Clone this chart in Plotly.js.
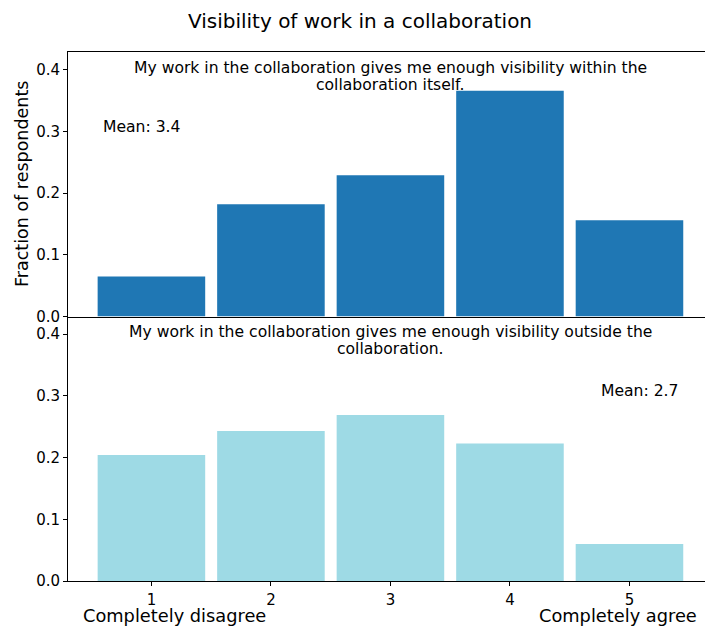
<!DOCTYPE html>
<html>
<head>
<meta charset="utf-8">
<script src="https://cdn.plot.ly/plotly-3.0.1.min.js"></script>
<style>html,body{margin:0;padding:0;background:#fff;}#chart{width:705px;height:628px;}</style>
</head>
<body>
<div id="chart"></div>
<script>
// Data
const categories = [1, 2, 3, 4, 5];
const withinValues = [0.065, 0.182, 0.229, 0.366, 0.156];
const outsideValues = [0.204, 0.243, 0.269, 0.223, 0.060];
const yTickVals = [0.0, 0.1, 0.2, 0.3, 0.4];
const yTickText = ["0.0", "0.1", "0.2", "0.3", "0.4"];
const xTickText = ["1", "2", "3", "4", "5"];
const title = "Visibility of work in a collaboration";
const withinQuestion = ["My work in the collaboration gives me enough visibility within the", "collaboration itself."];
const outsideQuestion = ["My work in the collaboration gives me enough visibility outside the", "collaboration."];
const withinMean = "Mean: 3.4";
const outsideMean = "Mean: 2.7";
const leftLabel = "Completely disagree";
const rightLabel = "Completely agree";
const yLabel = "Fraction of respondents";

const FONT = "DejaVu Sans, sans-serif";
const xRange = [0.302, 5.632];
const yRange = [0, 0.4286];

const traces = [
  {type: 'bar', x: categories, y: withinValues, width: 0.9, marker: {color: '#1f77b4'}, xaxis: 'x', yaxis: 'y', hoverinfo: 'none'},
  {type: 'bar', x: categories, y: outsideValues, width: 0.9, marker: {color: '#9edae5'}, xaxis: 'x2', yaxis: 'y2', hoverinfo: 'none'}
];

const yCommon = {
  range: yRange, tickvals: yTickVals, ticktext: yTickText,
  ticks: 'outside', ticklen: 4, tickwidth: 1, tickcolor: '#000',
  showline: true, linecolor: '#000', linewidth: 1,
  showgrid: false, zeroline: false,
  tickfont: {family: FONT, size: 15, color: '#000'}
};

const layout = {
  width: 705, height: 628,
  margin: {l: 68, r: 0, t: 52, b: 47},
  paper_bgcolor: '#fff', plot_bgcolor: '#fff',
  showlegend: false,
  font: {family: FONT, color: '#000'},
  title: {text: title, font: {family: FONT, size: 20, color: '#000'}, x: 360/705, xanchor: 'center', y: 1 - 21/628, yanchor: 'middle', xref: 'container', yref: 'container'},
  xaxis: {domain: [0, 1], range: xRange, anchor: 'y', showline: true, mirror: true, linecolor: '#000', linewidth: 1, showticklabels: false, ticks: '', showgrid: false, zeroline: false},
  yaxis: Object.assign({}, yCommon, {domain: [0.5, 1], anchor: 'x'}),
  xaxis2: {domain: [0, 1], range: xRange, anchor: 'y2', showline: true, linecolor: '#000', linewidth: 1,
    tickvals: categories, ticktext: xTickText, ticks: 'outside', ticklen: 4, tickwidth: 1, tickcolor: '#000',
    ticklabelstandoff: 1,
    showgrid: false, zeroline: false, tickfont: {family: FONT, size: 15, color: '#000'}},
  yaxis2: Object.assign({}, yCommon, {domain: [0, 0.5], anchor: 'x2'}),
  annotations: [
    {text: withinQuestion[0], xref: 'x', yref: 'y', x: 3, y: 0.403, xanchor: 'center', yanchor: 'middle', showarrow: false, font: {family: FONT, size: 15.6, color: '#000'}},
    {text: withinQuestion[1], xref: 'x', yref: 'y', x: 3, y: 0.3755, xanchor: 'center', yanchor: 'middle', showarrow: false, font: {family: FONT, size: 15.6, color: '#000'}},
    {text: withinMean, xref: 'x', yref: 'y', x: 0.576, y: 0.307, xanchor: 'left', yanchor: 'middle', showarrow: false, font: {family: FONT, size: 15.6, color: '#000'}},
    {text: outsideQuestion[0], xref: 'x2', yref: 'y2', x: 3, y: 0.4035, xanchor: 'center', yanchor: 'middle', showarrow: false, font: {family: FONT, size: 15.6, color: '#000'}},
    {text: outsideQuestion[1], xref: 'x2', yref: 'y2', x: 3, y: 0.376, xanchor: 'center', yanchor: 'middle', showarrow: false, font: {family: FONT, size: 15.6, color: '#000'}},
    {text: outsideMean, xref: 'x2', yref: 'y2', x: 5.43, y: 0.308, xanchor: 'right', yanchor: 'middle', showarrow: false, font: {family: FONT, size: 15.6, color: '#000'}},
    {text: leftLabel, xref: 'x2', yref: 'paper', x: 1.197, y: -(615-581)/529, xanchor: 'center', yanchor: 'middle', showarrow: false, font: {family: FONT, size: 17.8, color: '#000'}},
    {text: rightLabel, xref: 'x2', yref: 'paper', x: 4.908, y: -(615-581)/529, xanchor: 'center', yanchor: 'middle', showarrow: false, font: {family: FONT, size: 17.8, color: '#000'}},
    {text: yLabel, xref: 'paper', yref: 'paper', x: (22-68)/637, y: (581-184)/529, xanchor: 'center', yanchor: 'middle', textangle: -90, showarrow: false, font: {family: FONT, size: 17.5, color: '#000'}}
  ]
};

Plotly.newPlot('chart', traces, layout, {displayModeBar: false, staticPlot: true});
</script>
</body>
</html>
